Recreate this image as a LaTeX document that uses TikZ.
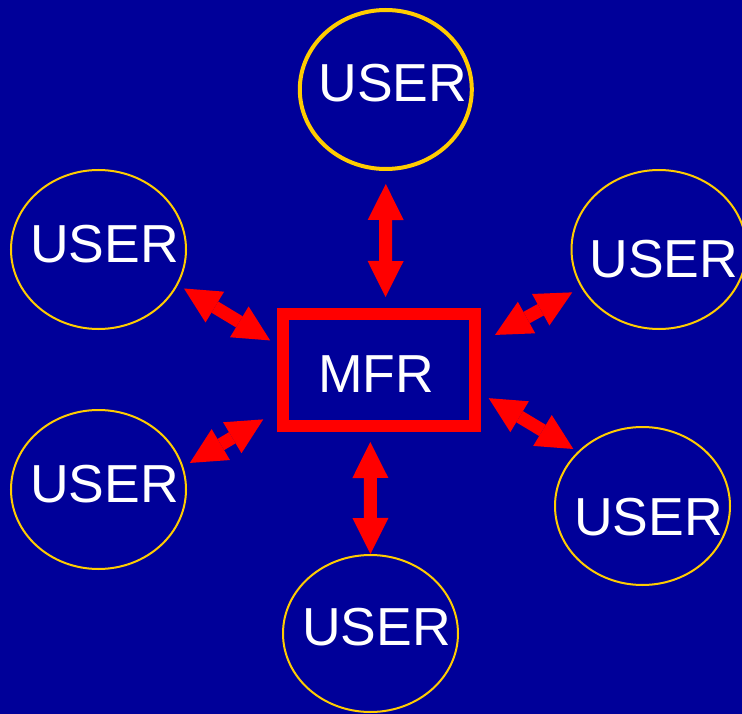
\documentclass[tikz,border=0pt]{standalone}
\usepackage{fontspec}
\setmainfont{Liberation Sans}
\usepackage{tikz}
\usetikzlibrary{shapes.geometric,arrows.meta}
\definecolor{bgblue}{RGB}{0,0,153}
\definecolor{ringgold}{RGB}{255,204,0}
\definecolor{linkred}{RGB}{255,0,0}

\begin{document}
\begin{tikzpicture}[x=1pt,y=-1pt,
    font=\fontsize{53.5}{60}\selectfont, text=white,
    user/.style={ellipse,draw=ringgold,line width=2pt,inner sep=0pt,
        minimum width=175pt,minimum height=159pt},
    mfrbox/.style={rectangle,draw=linkred,line width=12pt,inner sep=0pt,
        minimum width=192pt,minimum height=112pt},
    link/.style={draw=linkred,line width=13pt,
        {Triangle[width=36pt,length=36pt,line width=0pt]}-{Triangle[width=36pt,length=36pt,line width=0pt]}}]
        \path[use as bounding box] (0,0) rectangle (742,714);
        \clip (0,0) rectangle (742,714);
        \fill[bgblue] (0,0) rectangle (742,714);
        % hub
        \draw (379,370) node[mfrbox,label={[shift={(-3,4)}]center:MFR}](mfr) {};
        % users round the hub
        \draw (385.8,89.5) node[user,line width=4pt,minimum width=172pt,
            label={[shift={(7,-6)}]center:USER}](user1) {};
        \draw (98.5,249.5) node[user,label={[shift={(6,-5)}]center:USER}](user2) {};
        \draw (659,249.5) node[user,label={[shift={(5,10)}]center:USER}](user3) {};
        \draw (98.5,489.5) node[user,label={[shift={(6,-5)}]center:USER}](user4) {};
        \draw (642.5,506) node[user,minimum height=158pt,
            label={[shift={(6,11)}]center:USER}](user5) {};
        \draw (370.5,633.5) node[user,minimum height=157pt,
            label={[shift={(6,-6)}]center:USER}](user6) {};
        % two-way links
        \draw[link,shorten <=11pt,shorten >=13pt] (mfr.84) -- (user1.south);
        \draw[link,shorten <=8pt,shorten >=7pt] (mfr.166) -- (user2.336);
        \draw[link,shorten <=16pt,shorten >=10pt] (mfr.15) -- (user3.206);
        \draw[link,shorten <=16pt,shorten >=7.5pt] (mfr.202) -- (user4.15);
        \draw[link,shorten <=9pt,shorten >=5pt] (mfr.347) -- (user5.140);
        \draw[link,shorten <=10pt,shorten >=0pt] (mfr.262) -- (user6.north);
\end{tikzpicture}
\end{document}
